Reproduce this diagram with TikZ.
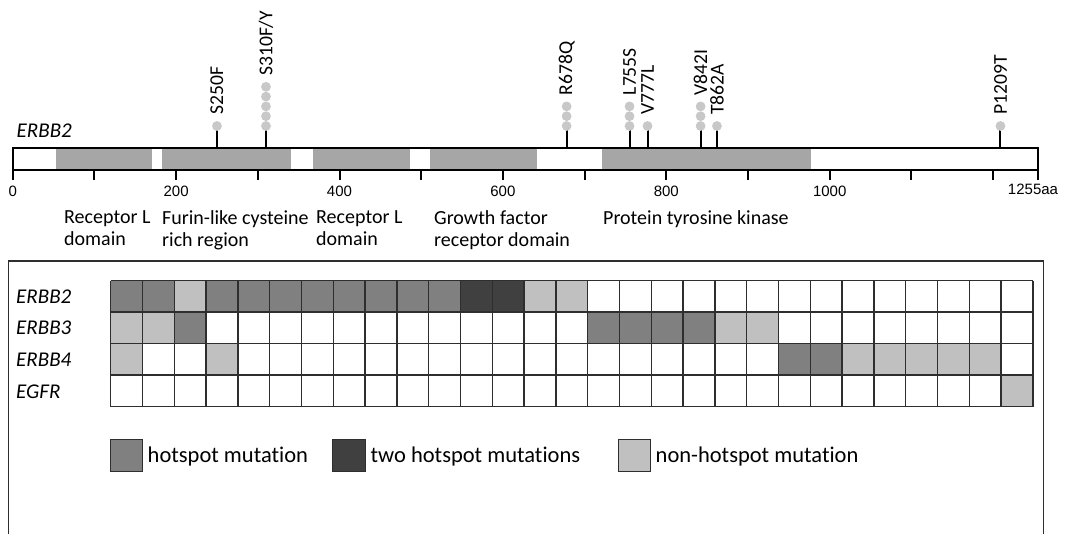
\documentclass[tikz,border=0pt]{standalone}
\usepackage{fontspec}
\setmainfont{Carlito}[Ligatures=NoCommon]
\newfontfamily\arialf{Liberation Sans}
\definecolor{domgray}{HTML}{A6A6A6}
\definecolor{dotgray}{HTML}{C8C8C8}
\definecolor{hotc}{HTML}{808080}
\definecolor{twoc}{HTML}{404040}
\definecolor{nonc}{HTML}{C0C0C0}
\definecolor{gridc}{HTML}{2E2E2E}
\begin{document}
\begin{tikzpicture}[x=1pt,y=-1pt,
  dot/.style={circle,fill=dotgray,inner sep=0pt,minimum size=9.8pt},
  stem/.style={line width=2pt,black},
  mutlabel/.style={rotate=90,anchor=west,inner sep=0pt,font=\fontsize{19.6}{22}\selectfont},
  domlabel/.style={anchor=north west,inner sep=0pt,align=left,font=\fontsize{20}{22.5}\selectfont},
  numlabel/.style={inner sep=0pt,font=\arialf\fontsize{15}{18}\selectfont},
  genelabel/.style={anchor=west,inner sep=0pt,font=\itshape\fontsize{21}{24}\selectfont},
  legbox/.style={draw=gridc,line width=1pt,minimum width=32.5pt,minimum height=32pt,inner sep=0pt},
  legtext/.style={anchor=west,inner sep=0pt,font=\fontsize{22.5}{26}\selectfont},
  tick/.style={line width=2pt,black}]
\useasboundingbox (0,0) rectangle (1066,534);

% ---------------- protein bar (x in amino acids) ----------------
\begin{scope}[xshift=12.7pt,x=0.817pt]
  \fill[white] (0,148) rectangle (1255,170);
  \fill[domgray] (53,148) rectangle (171,170);
  \fill[domgray] (183,148) rectangle (341,170);
  \fill[domgray] (367,148) rectangle (486,170);
  \fill[domgray] (511,148) rectangle (642,170);
  \fill[domgray] (721,148) rectangle (977,170);
  \draw[line width=2pt] (0,148) rectangle (1255,170);
  \foreach \t in {0,100,...,1200,1255}
    \draw[tick] (\t,170) -- (\t,180.5);
\end{scope}

% axis numbers
\foreach \t in {0,200,400,600,800,1000}{
  \pgfmathsetmacro\xx{12.7+\t*0.817}
  \node[numlabel] (n\t) at (\xx,191) {\t};
}
\node[numlabel] (n1255) at (1033,189.5) {1255aa};

% lollipops: name/position/number of dots/label
\foreach \nm/\p/\k/\lab in {a/250/1/S250F, b/310/5/S310F\slash Y, c/678/3/R678Q,
                           d/755/3/L755S, e/777/1/V777L, f/842/3/V842I,
                           g/862/1/T862A, h/1209/1/P1209T}{
  \pgfmathsetmacro\xx{12.7+\p*0.817}
  \coordinate (base\nm) at (\xx,148);
  \draw[stem] (\xx,126) -- (base\nm);
  \foreach \i in {1,...,\k}{
    \node[dot] (dot\nm\i) at (\xx,{126-9.8*(\i-1)}) {};
  }
  \node[mutlabel] (lab\nm) at (\xx,{126-9.8*(\k-1)-11}) {\lab};
}

\node[genelabel] (topgene) at (16.5,131) {ERBB2};

% ---------------- domain labels ----------------
\node[domlabel] (d1) at (64,210) {Receptor L\\domain};
\node[domlabel] (d2) at (162,210) {Furin-like cysteine\\rich region};
\node[domlabel] (d3) at (316,210) {Receptor L\\domain};
\node[domlabel] (d4) at (434,210) {Growth factor\\receptor domain};
\node[domlabel] (d5) at (603,210) {Protein tyrosine kinase};

% ---------------- lower panel ----------------
\draw[gridc,line width=1.5pt] (8.3,534) |- (1043.3,261) -- (1043.3,534);

\begin{scope}[shift={(110.7,280.7)},x=31.8pt,y=-31.5pt]
  \foreach \c/\r in {1/1,2/1,4/1,5/1,6/1,7/1,8/1,9/1,10/1,11/1,
                     3/2,16/2,17/2,18/2,19/2, 22/3,23/3}
    \fill[hotc] (\c-1,\r-1) rectangle (\c,\r);
  \foreach \c/\r in {12/1,13/1}
    \fill[twoc] (\c-1,\r-1) rectangle (\c,\r);
  \foreach \c/\r in {3/1,14/1,15/1, 1/2,2/2,20/2,21/2,
                     1/3,4/3,24/3,25/3,26/3,27/3,28/3, 29/4}
    \fill[nonc] (\c-1,\r-1) rectangle (\c,\r);
  \foreach \c in {0,...,29}
    \draw[gridc,line width=1.5pt] (\c,0) -- (\c,4);
  \foreach \r in {0,...,4}
    \draw[gridc,line width=1.5pt] (0,\r) -- (29,\r);
\end{scope}

\node[genelabel] (g1) at (16,296.5) {ERBB2};
\node[genelabel] (g2) at (16,328) {ERBB3};
\node[genelabel] (g3) at (16,359.8) {ERBB4};
\node[genelabel] (g4) at (16,391.3) {EGFR};

% ---------------- legend ----------------
\node[legbox,fill=hotc] (lb1) at (126.5,456) {};
\node[legtext] (lt1) at (147.5,457) {hotspot mutation};
\node[legbox,fill=twoc] (lb2) at (349,456) {};
\node[legtext] (lt2) at (370.5,457) {two hotspot mutations};
\node[legbox,fill=nonc] (lb3) at (634.5,456) {};
\node[legtext] (lt3) at (655.5,457) {non-hotspot mutation};
\end{tikzpicture}
\end{document}
